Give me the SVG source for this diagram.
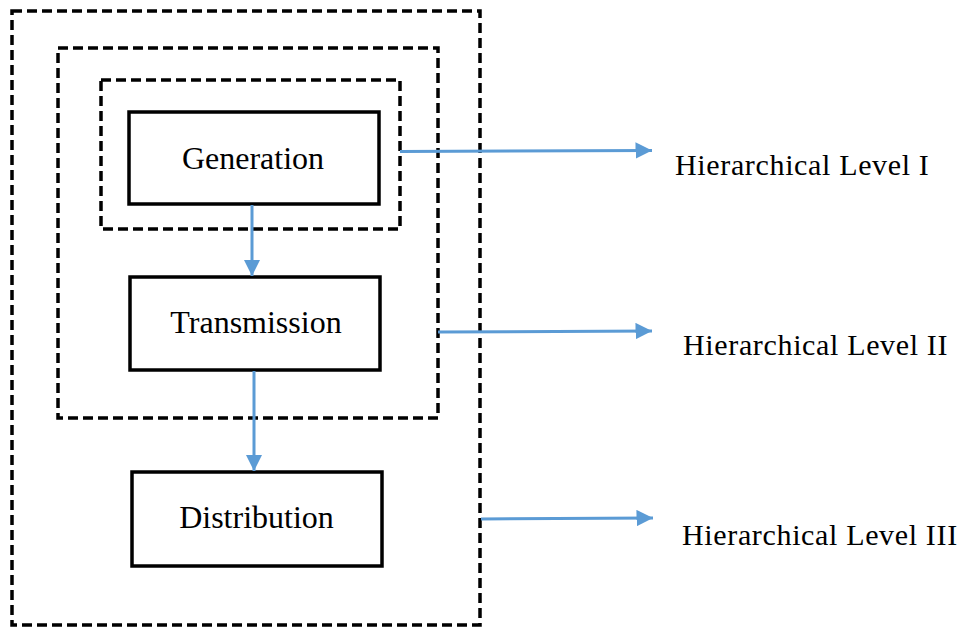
<svg xmlns="http://www.w3.org/2000/svg" width="963" height="628" viewBox="0 0 963 628">
<style>
.dash{fill:none;stroke:#000;stroke-width:3.5;stroke-dasharray:10 5;}
.box{fill:#fff;stroke:#000;stroke-width:3.5;}
.lbl{font-family:'Liberation Serif','Times New Roman',Times,serif;fill:#000;}
.lvl{font-size:30px;letter-spacing:0.65px;}
.conn{stroke:#5B9BD5;stroke-width:3;fill:none;}
</style>
<defs>
<marker id="ah" markerWidth="5.5" markerHeight="5.5" refX="5.5" refY="2.75" orient="auto" markerUnits="strokeWidth">
<path d="M0,0 L5.5,2.75 L0,5.5 Z" fill="#5B9BD5"/>
</marker>
</defs>
<g id="level3"><rect class="dash" x="12" y="11" width="468" height="614"/></g>
<g id="level2"><rect class="dash" x="58" y="48" width="380" height="370"/></g>
<g id="level1"><rect class="dash" x="101" y="80" width="299" height="149"/></g>
<g id="generation">
<rect class="box" x="129" y="112" width="250" height="92"/>
<text class="lbl" x="253" y="169" font-size="32" text-anchor="middle">Generation</text>
</g>
<g id="transmission">
<rect class="box" x="130" y="277" width="250" height="93"/>
<text class="lbl" x="256" y="333" font-size="32" text-anchor="middle">Transmission</text>
</g>
<g id="distribution">
<rect class="box" x="132" y="472" width="250" height="94"/>
<text class="lbl" x="256.5" y="528" font-size="32" text-anchor="middle">Distribution</text>
</g>
<g id="label1"><text class="lbl lvl" x="675" y="175">Hierarchical Level I</text></g>
<g id="label2"><text class="lbl lvl" x="683" y="355">Hierarchical Level II</text></g>
<g id="label3"><text class="lbl lvl" x="682" y="545">Hierarchical Level III</text></g>
<g id="connectors">
<line class="conn" x1="252" y1="205" x2="252" y2="276" marker-end="url(#ah)"/>
<line class="conn" x1="254" y1="371" x2="254" y2="471" marker-end="url(#ah)"/>
<line class="conn" x1="400" y1="151.5" x2="652" y2="150.5" marker-end="url(#ah)"/>
<line class="conn" x1="438" y1="332" x2="652" y2="331" marker-end="url(#ah)"/>
<line class="conn" x1="481" y1="519" x2="653" y2="518" marker-end="url(#ah)"/>
</g>
</svg>
